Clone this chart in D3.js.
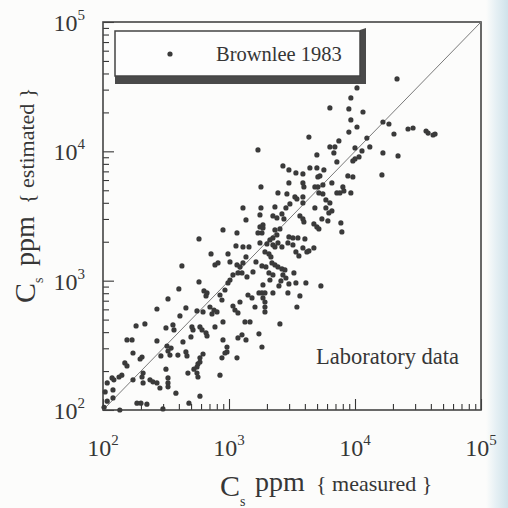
<!DOCTYPE html>
<html><head><meta charset="utf-8">
<script src="https://cdn.jsdelivr.net/npm/d3@7"></script>
<style>html,body{margin:0;padding:0;background:#fcfcfb;} svg{display:block;}</style>
</head><body>
<script>
// measured Cs (ppm) and estimated Cs (ppm)
const measured = [
21550,10370,9272,6319,8940,11570,9272,16660,18590,10370,26350,28880,36640,38030,41650,43170,
8940,20380,4306,12420,7448,6319,6923,10000,13110,1698,6798,11360,16660,4983,21950,10000,10760,9617,7181,2679,4385,4983,5663,2989,3397,3860,8778,9617,16360,5264,5075,2989,3860,6554,4804,5075,5560,8012,3931,1793,
8160,7181,7585,9272,5168,5560,2446,2882,3335,3459,3860,5874,6319,3044,2830,3860,1793,1291,4804,5874,6554,6204,2315,2631,2232,2729,2401,1761,3654,3860,3931,5460,6092,7725,1364,4717,4983,5168,7867,2536,1860,1860,1761,896,1157,1698,1826,2315,2401,2232,578,2989,3216,3523,4003,2935,3216,3860,4306,4717,2631,1761,2000,2113,2232,2315,2446,1136,1291,1441,3397,3588,
720,774,818,423,982,1364,1929,2075,2152,4152,1018,1157,1222,1291,1637,1826,1964,2192,2315,2446,2631,2779,3275,1075,1178,1268,1550,1389,2075,2232,2679,2830,1018,982,2113,2583,3397,4077,5361,1860,2491,2989,578,633,669,657,400,929,1729,1826,1929,2232,1415,1522,2935,3654,848,1860,1929,879,1222,328,
268,455,557,622,706,760,733,803,408,1075,1115,1178,1608,1929,1929,3459,215,183,316,359,366,508,518,588,611,657,669,774,896,1339,1468,2536,1268,1178,1729,1364,896,964,964,929,1826,1157,879,155,170,268,431,499,322,347,328,173,204,197,288,340,393,455,464,622,588,
588,567,557,527,149,155,316,472,557,567,848,208,204,208,236,249,268,141,134,173,118,122,108,328,328,328,283,379,104,120,588,120,108,186,200,223,481,102,136,299
];
const estimated = [
36290,30900,25880,21660,21280,20150,17490,16860,16270,15420,14880,15150,14360,13850,13370,13610,
14100,13610,12900,12670,12030,10810,10810,10620,10810,10250,9720,10070,9720,9380,9214,8735,9052,8431,8282,7712,7442,7442,7181,7181,6812,6691,6457,6343,6573,6457,6343,5698,5698,5698,5306,5306,5498,5306,5306,5306,
4941,4768,4768,4768,4768,4684,4768,4684,4440,4285,4440,4209,3991,3921,3651,3991,3651,3651,3651,3651,3461,3340,3717,3281,3166,3001,3055,3223,3166,3001,2844,3001,2896,2794,2948,2745,2602,2511,2380,2511,2696,2556,2602,2467,2338,2338,2338,2467,2256,2139,2101,2177,2139,2139,2101,1959,1890,1792,1698,1792,1824,1959,1924,2064,1890,1824,1959,1857,1824,1824,1668,1553,
1610,1323,1371,1300,1610,1526,1668,1610,1526,1668,1396,1323,1277,1371,1396,1300,1277,1371,1323,1277,1232,1210,1147,1107,1147,1147,1168,1068,1147,1107,1107,1049,1012,960,1012,995,960,960,910,927,910,943,978,833,804,762,863,847,804,804,804,804,775,735,804,762,775,735,684,709,684,722,
604,615,583,573,626,593,553,573,534,637,593,563,626,626,573,626,463,447,431,455,416,439,416,439,416,395,374,439,480,480,480,463,381,361,388,348,348,307,281,276,307,253,253,348,348,342,336,367,312,301,286,276,257,248,262,266,266,281,262,271,253,
235,227,215,207,231,219,207,193,193,180,186,193,180,162,171,165,162,186,180,171,177,171,162,177,162,151,148,135,138,143,128,124,117,113,113,111,113,105,100,102
];
const majorTicks = [100, 1000, 10000, 100000];
const tickExponents = ["2", "3", "4", "5"];
const legendLabel = "Brownlee 1983";
const noteLabel = "Laboratory data";
const xTitleParts = ["C", "s", "ppm", "{ measured }"];
const yTitleParts = ["C", "s", "ppm", "{ estimated }"];

const W = 508, H = 508;
const ink = "#363636";
const font = "'Liberation Serif', 'Times New Roman', serif";
const svg = d3.select("body").append("svg").attr("width", W).attr("height", H);

const defs = svg.append("defs");
const grad = defs.append("linearGradient").attr("id", "edge").attr("x1", 0).attr("x2", 1).attr("y1", 0).attr("y2", 0);
grad.append("stop").attr("offset", "0%").attr("stop-color", "#fcfcfb");
grad.append("stop").attr("offset", "45%").attr("stop-color", "#e6f0f4");
grad.append("stop").attr("offset", "100%").attr("stop-color", "#cfe2ea");
svg.append("rect").attr("width", W).attr("height", H).attr("fill", "#fcfcfb");
svg.append("rect").attr("x", 486).attr("y", 0).attr("width", 22).attr("height", H).attr("fill", "url(#edge)");

const x = d3.scaleLog().domain([100, 100000]).range([103, 481]);
const y = d3.scaleLog().domain([100, 100000]).range([410, 22]);
const minor = x.ticks().filter(v => !majorTicks.includes(v));

function styleAxis(g) {
  g.select(".domain").remove();
  g.selectAll(".tick line").attr("stroke", ink).attr("stroke-width", 1.1);
}
svg.append("g").attr("transform", "translate(0,410)")
  .call(d3.axisBottom(x).tickValues(minor).tickSize(-6).tickFormat("")).call(styleAxis);
svg.append("g").attr("transform", "translate(0,410)")
  .call(d3.axisBottom(x).tickValues(majorTicks).tickSize(-11).tickFormat("")).call(styleAxis);
svg.append("g").attr("transform", "translate(103,0)")
  .call(d3.axisLeft(y).tickValues(minor).tickSize(-6).tickFormat("")).call(styleAxis);
svg.append("g").attr("transform", "translate(103,0)")
  .call(d3.axisLeft(y).tickValues(majorTicks).tickSize(-11).tickFormat("")).call(styleAxis);

// frame
svg.append("rect").attr("x", x.range()[0]).attr("y", y.range()[1])
  .attr("width", x.range()[1] - x.range()[0]).attr("height", y.range()[0] - y.range()[1])
  .attr("fill", "none").attr("stroke", "#444").attr("stroke-width", 1.6);

// 1:1 line
svg.append("line").attr("x1", x(100)).attr("y1", y(100)).attr("x2", x(100000)).attr("y2", y(100000))
  .attr("stroke", "#7a7a7a").attr("stroke-width", 1);

// points
svg.append("g").selectAll("circle").data(measured.map((m, i) => [m, estimated[i]])).join("circle")
  .attr("cx", d => x(d[0])).attr("cy", d => y(d[1])).attr("r", 2.6).attr("fill", "#3a3a3a");

// tick labels
majorTicks.forEach((v, i) => {
  const tx = svg.append("text").attr("x", x(v)).attr("y", 456).attr("text-anchor", "middle")
    .attr("font-family", font).attr("font-size", 24).attr("fill", ink);
  tx.append("tspan").text("10");
  tx.append("tspan").attr("font-size", 15).attr("dy", -11).text(tickExponents[i]);
  const ty = svg.append("text").attr("x", 85).attr("y", y(v) + 9).attr("text-anchor", "end")
    .attr("font-family", font).attr("font-size", 24).attr("fill", ink);
  ty.append("tspan").text("10");
  ty.append("tspan").attr("font-size", 15).attr("dy", -11).text(tickExponents[i]);
});

// x title
const xt = svg.append("g").attr("font-family", font).attr("fill", ink);
xt.append("text").attr("x", 220).attr("y", 496).attr("font-size", 30).text(xTitleParts[0]);
xt.append("text").attr("x", 240).attr("y", 506).attr("font-size", 14).text(xTitleParts[1]);
xt.append("text").attr("x", 255).attr("y", 491).attr("font-size", 28).text(xTitleParts[2]);
xt.append("text").attr("x", 316).attr("y", 491).attr("font-size", 22).text(xTitleParts[3]);

// y title (rotated)
const yt = svg.append("g").attr("font-family", font).attr("fill", ink).attr("transform", "rotate(-90)");
yt.append("text").attr("x", -303).attr("y", 35).attr("font-size", 30).text(yTitleParts[0]);
yt.append("text").attr("x", -283).attr("y", 43).attr("font-size", 14).text(yTitleParts[1]);
yt.append("text").attr("x", -266).attr("y", 34).attr("font-size", 28).text(yTitleParts[2]);
yt.append("text").attr("x", -204).attr("y", 34).attr("font-size", 22).text(yTitleParts[3]);

// legend box with 3D shadow
svg.append("path").attr("d", "M115,76 L360,76 L360,30 L366,28 L366,84 L115,84 Z").attr("fill", "#4a4a4a");
svg.append("rect").attr("x", 115).attr("y", 31).attr("width", 245).attr("height", 45)
  .attr("fill", "#fdfdfd").attr("stroke", "#444").attr("stroke-width", 1.5);
svg.append("circle").attr("cx", 170).attr("cy", 54).attr("r", 2.6).attr("fill", "#3a3a3a");
svg.append("text").attr("x", 216).attr("y", 61).attr("font-family", font).attr("font-size", 20.5)
  .attr("fill", ink).text(legendLabel);

// note
svg.append("text").attr("x", 316).attr("y", 364).attr("font-family", font).attr("font-size", 22.5)
  .attr("fill", ink).text(noteLabel);
</script>
</body></html>
